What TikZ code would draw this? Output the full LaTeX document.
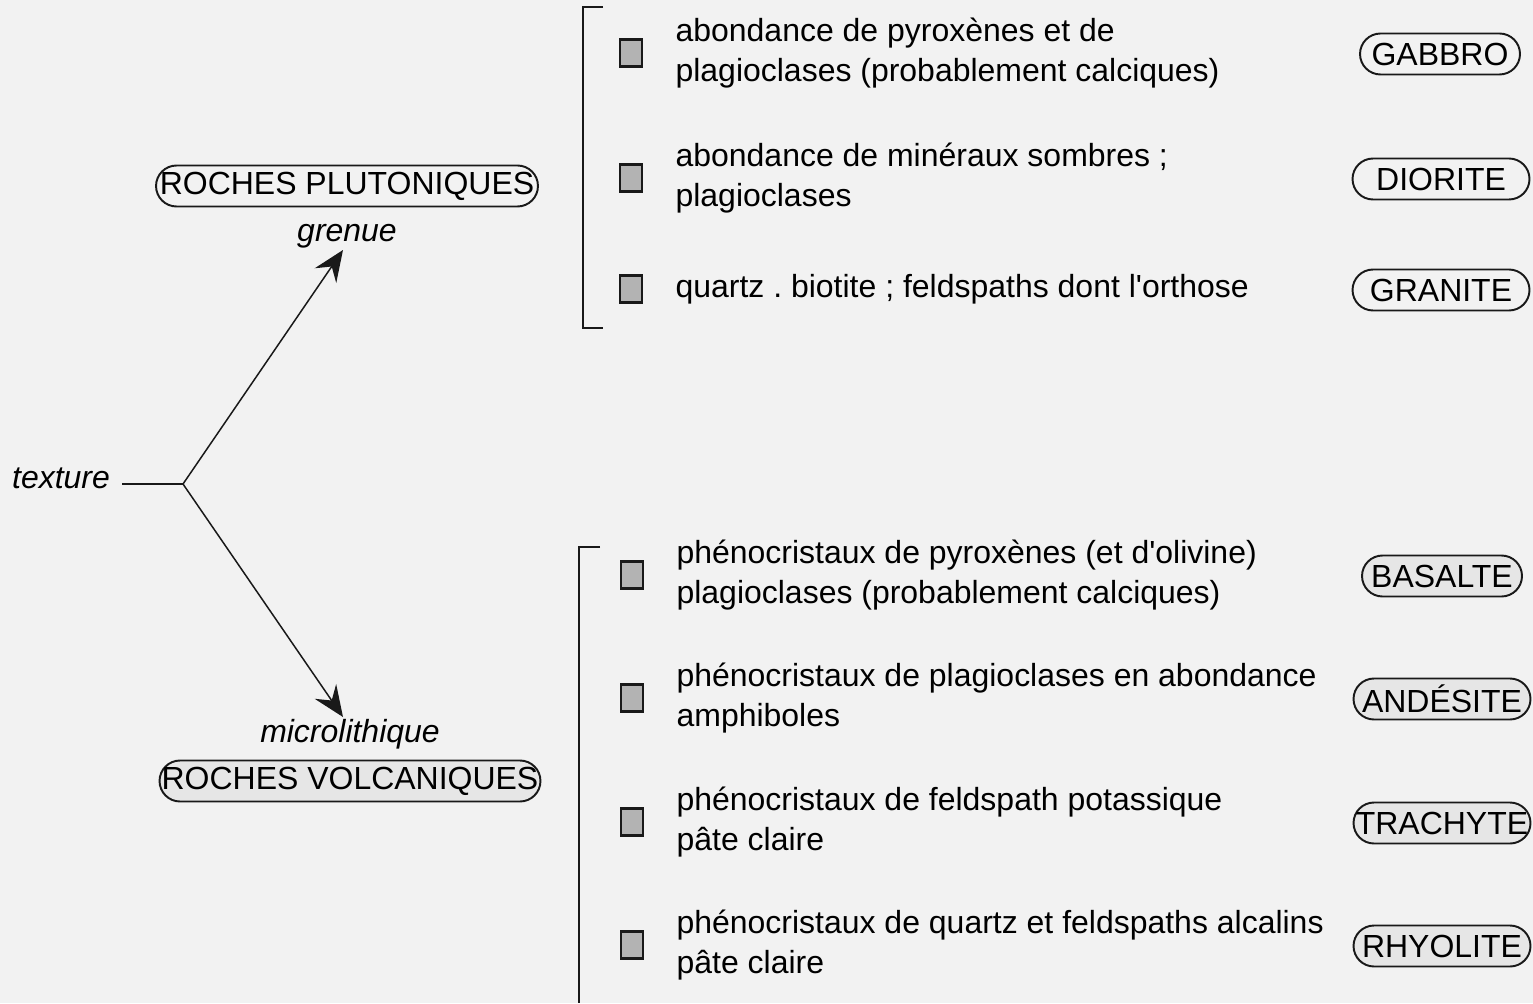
\documentclass[tikz,border=0pt]{standalone}
\usepackage{fontspec}
\setmainfont{Liberation Sans}[Ligatures=TeXOff]
\frenchspacing
\usetikzlibrary{positioning, arrows.meta, backgrounds}
\definecolor{paper}{RGB}{242,242,242}
\definecolor{chip}{RGB}{179,179,179}
\definecolor{lava}{RGB}{230,230,230}
\definecolor{ink}{RGB}{25,25,25}

\begin{document}
\begin{tikzpicture}[
  x=0.02cm, y=-0.02cm,
  every node/.style={font=\fontsize{18.2}{22.7}\selectfont, text=black},
  pill/.style={draw=ink, fill=paper, line width=1.1pt, rounded corners=0.41cm,
               minimum width=3.54cm, minimum height=0.82cm, inner sep=0pt},
  volcpill/.style={pill, fill=lava},
  chipbox/.style={draw=ink, fill=chip, line width=1.4pt,
                  minimum width=0.44cm, minimum height=0.54cm, inner sep=0pt},
  desc/.style={anchor=west, align=left, inner sep=0pt},
  tag/.style={font=\fontsize{18.2}{22.7}\selectfont\itshape, inner sep=0pt, anchor=base},
  arr/.style={-{Stealth[length=0.62cm, width=0.52cm, inset=0.22cm]}, line width=0.85pt, draw=ink},
  plain/.style={line width=0.85pt, draw=ink},
  bracket/.style={line width=1.1pt, draw=ink},
]
  \useasboundingbox (0,0) rectangle (1533,1003);
  \fill[paper] (0,0) rectangle (1533,1003);

  % left part
  \node[tag] (texture) at (61,488) {texture};
  \coordinate (fork) at (183,484);
  \coordinate (tipup) at (343,250);
  \coordinate (tipdown) at (343,717);
  \node[tag] (grenue) at (347,242) {grenue};
  \node[tag] (micro) at (350,742) {microlithique};
  \node[pill, minimum width=7.64cm, yshift=-0.04cm] (plut) at (347,184) {ROCHES PLUTONIQUES};
  \node[volcpill, minimum width=7.62cm, yshift=-0.04cm] (volc) at (350,779) {ROCHES VOLCANIQUES};

  \draw[plain] ([xshift=0.24cm]texture.east |- fork) -- (fork);
  \draw[arr] (fork) -- (tipup);
  \draw[arr] (fork) -- (tipdown);

  % plutonic rows
  \draw[bracket] (603,7) -- (583,7) -- (583,328) -- (603,328);
  \node[chipbox] (c1) at (631,53) {};
  \node[chipbox] (c2) at (631,178) {};
  \node[chipbox] (c3) at (631,289) {};
  \node[desc, right=0.64cm of c1] (d1) {abondance de pyroxènes et de\\plagioclases (probablement calciques)};
  \node[desc, right=0.64cm of c2] (d2) {abondance de minéraux sombres ;\\plagioclases};
  \node[desc, right=0.64cm of c3] (d3) {quartz . biotite ; feldspaths dont l'orthose};
  \node[pill, minimum width=3.2cm] (gabbro) at (1440,54) {GABBRO};
  \node[pill] (diorite) at (1441,179) {DIORITE};
  \node[pill] (granite) at (1441,290) {GRANITE};

  % volcanic rows
  \draw[bracket] (600,547) -- (579,547) -- (579,1003);
  \node[chipbox] (c4) at (632,575) {};
  \node[chipbox] (c5) at (632,698) {};
  \node[chipbox] (c6) at (632,822) {};
  \node[chipbox] (c7) at (632,945) {};
  \node[desc, right=0.64cm of c4] (d4) {phénocristaux de pyroxènes (et d'olivine)\\plagioclases (probablement calciques)};
  \node[desc, right=0.64cm of c5] (d5) {phénocristaux de plagioclases en abondance\\amphiboles};
  \node[desc, right=0.64cm of c6] (d6) {phénocristaux de feldspath potassique\\pâte claire};
  \node[desc, right=0.64cm of c7] (d7) {phénocristaux de quartz et feldspaths alcalins\\pâte claire};
  \node[volcpill, minimum width=3.2cm] (basalte) at (1442,576) {BASALTE};
  \node[volcpill] (andesite) at (1442,699) {ANDÉSITE};
  \node[volcpill] (trachyte) at (1442,823) {TRACHYTE};
  \node[volcpill] (rhyolite) at (1442,946) {RHYOLITE};
\end{tikzpicture}
\end{document}
